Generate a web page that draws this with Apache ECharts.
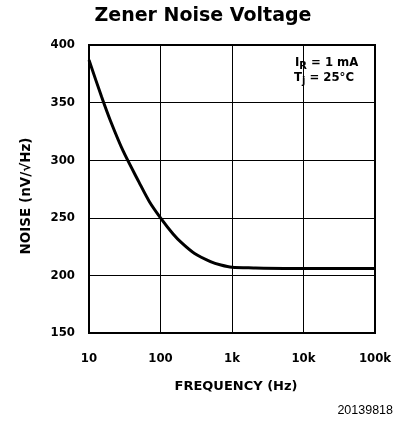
<!DOCTYPE html>
<html><head><meta charset="utf-8">
<script src="https://cdn.jsdelivr.net/npm/echarts@6/dist/echarts.min.js"></script>
<style>html,body{margin:0;padding:0;background:#fff}#c{width:399px;height:428px}</style>
</head><body><div id="c"></div>
<script>
const frequencies = [10, 15, 20, 30, 50, 70, 100, 150, 200, 300, 500, 700, 1000, 2000, 10000, 100000];
const noise = [387, 355, 334, 308, 281, 264, 250, 236, 228, 219, 212, 209, 207, 206.5, 206, 206];
const xTickLabels = {10: '10', 100: '100', 1000: '1k', 10000: '10k', 100000: '100k'};
const yTicks = [150, 200, 250, 300, 350, 400];

const COND = '"DejaVu Sans Condensed", "DejaVu Sans", sans-serif';
const WIDE = '"DejaVu Sans", sans-serif';
const chart = echarts.init(document.getElementById('c'), null, {renderer: 'canvas'});
chart.setOption({
  animation: false,
  backgroundColor: '#fff',
  title: {
    text: 'Zener Noise Voltage', left: 198, top: 2, textAlign: 'center',
    textStyle: {fontFamily: WIDE, fontWeight: 'bold', fontSize: 19, color: '#000'}
  },
  grid: {left: 89, right: 24, top: 45, bottom: 95, show: true, borderColor: '#000', borderWidth: 2, backgroundColor: 'transparent'},
  xAxis: {
    type: 'log', logBase: 10, min: 10, max: 100000,
    name: 'FREQUENCY (Hz)', nameLocation: 'middle', nameGap: 47,
    nameTextStyle: {fontFamily: WIDE, fontWeight: 'bold', fontSize: 13, color: '#000', padding: [0, 0, 0, 8]},
    axisLine: {show: false}, axisTick: {show: false}, minorTick: {show: false},
    axisLabel: {margin: 19, fontFamily: COND, fontWeight: 'bold', fontSize: 13, color: '#000',
      formatter: v => xTickLabels[Math.round(v)] || ''},
    splitLine: {show: true, lineStyle: {color: '#000', width: 1}}
  },
  yAxis: {
    type: 'value', min: yTicks[0], max: yTicks[yTicks.length - 1], interval: 50,
    axisLine: {show: false}, axisTick: {show: false},
    axisLabel: {margin: 14, fontFamily: COND, fontWeight: 'bold', fontSize: 13, color: '#000'},
    splitLine: {show: true, lineStyle: {color: '#000', width: 1}}
  },
  series: [{
    type: 'line', data: frequencies.map((f, i) => [f, noise[i]]),
    smooth: 0.3, showSymbol: false, lineStyle: {color: '#000', width: 3}
  }],
  graphic: [
    {type: 'text', x: 26, y: 196, rotation: Math.PI / 2, style: {
      text: 'NOISE (nV/√Hz)', fontFamily: WIDE, fontWeight: 'bold', fontSize: 13.5, fill: '#000',
      align: 'center', verticalAlign: 'middle'}},
    {type: 'text', left: 295, top: 56, style: {
      text: '{m|I}{s|R}{m| = 1 mA}', rich: {
        m: {fontFamily: COND, fontWeight: 'bold', fontSize: 13, fill: '#000'},
        s: {fontFamily: COND, fontWeight: 'bold', fontSize: 11, fill: '#000', padding: [8, 0, 0, 0]}
      }}},
    {type: 'text', left: 294, top: 71, style: {
      text: '{m|T}{s|j}{m| = 25°C}', rich: {
        m: {fontFamily: COND, fontWeight: 'bold', fontSize: 13, fill: '#000'},
        s: {fontFamily: COND, fontWeight: 'bold', fontSize: 11, fill: '#000', padding: [8, 0, 0, 0]}
      }}},
    {type: 'text', right: 6, top: 404, style: {
      text: '20139818', fontFamily: 'Liberation Sans, Arial, sans-serif', fontSize: 12.5, fill: '#000'}}
  ]
});
</script></body></html>
